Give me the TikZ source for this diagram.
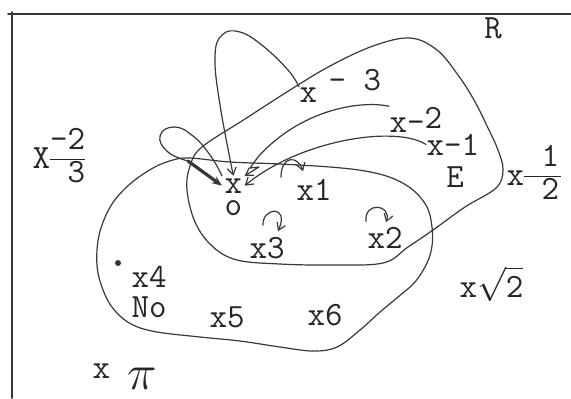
\documentclass[tikz,border=0pt]{standalone}
\usepackage{amsmath}
\usepackage{xcolor}
\usepackage{tikz}
\usetikzlibrary{arrows.meta, calc}
\renewcommand{\arraystretch}{0.8}

\begin{document}
\begin{tikzpicture}[x=0.5pt, y=-0.5pt, line width=0.6pt,
    pencil/.style={draw=black!78, line join=round, line cap=round},
    lbl/.style={inner sep=0pt, anchor=base west, text=black!85,
      font=\fontsize{17}{20}\selectfont\ttfamily},
    tip/.style={-{Straight Barb[length=3.5pt, width=4.5pt]}},
    selfloop/.style={pencil, tip}]

    \useasboundingbox (0,0) rectangle (571,398);

    % frame
    \draw[pencil, line width=0.8pt] (571,14) -- (8,14);
    \draw[pencil, line width=0.8pt] (12,12) -- (12,398);

    % labels
    \node[lbl, anchor=base] (R) at (493,38) {R};
    \node[lbl] (xmiii) at (299,102) {x};
    \node[lbl] (xmiiiexp) at (328,90) {- 3};
    \node[lbl] (xmii) at (389,132) {x-\raisebox{2pt}{2}};
    \node[lbl] (xmi) at (426,155) {x-1};
    \node[lbl, anchor=base] (E) at (455,187) {E};
    \node[lbl] (xhalf) at (506,185) {x\begin{tabular}{@{}r@{\hspace{1pt}}}\ 1\\\hline\ 2\end{tabular}};
    \node[lbl] (xtwothirds) at (32,168) {X\begin{tabular}{@{}l@{}}-2\hspace{13pt}\\\hline\ 3\end{tabular}};
    \node[lbl, inner sep=1pt] (x0) at (222,193) {x};
    \node[lbl] (x0sub) at (224,215) {o};
    \node[lbl] (x1) at (296,200) {x1};
    \node[lbl] (x2) at (367,248) {x2};
    \node[lbl] (x3) at (249,258) {x3};
    \node[lbl] (x4) at (131,287) {x4};
    \node[lbl] (No) at (131,317) {No};
    \node[lbl] (x5) at (209,327) {x5};
    \node[lbl] (x6) at (307,325) {x6};
    \node[lbl] (xsqrt) at (459,297) {x$\sqrt{\mbox{\ttfamily 2}}$};
    \node[lbl] (xpi) at (92,378) {x\ \raisebox{-5.5pt}{\fontsize{26}{28}\selectfont$\pi$}};
    \node[circle, fill=black!80, inner sep=0pt, minimum size=3pt] (dotfour) at (118,263) {};

    % region E
    \draw[pencil] plot[smooth cycle, tension=0.6] coordinates {(290,90) (330,66) (373,46) (410,38)
      (437,50) (458,75) (474,100) (488,128) (498,150) (503,170) (496,188) (465,207) (433,230)
      (408,247) (383,263) (330,265) (280,264) (237,260) (212,246) (195,222) (187,190) (190,166)
      (202,147) (245,119)};

    % region No
    \draw[pencil] plot[smooth cycle, tension=0.6] coordinates {(190,158) (230,162) (280,164)
      (330,167) (365,171) (392,178) (413,190) (427,207) (432,227) (432,246) (427,263) (415,282)
      (398,297) (380,312) (360,330) (337,347) (313,351) (280,347) (240,341) (200,337) (157,332)
      (133,325) (117,313) (106,297) (98,273) (97,250) (101,228) (112,204) (130,184) (153,168)
      (173,160)};

    % x-3 to x0, over the top
    \draw[pencil, tip] plot[smooth, tension=0.7] coordinates {(xmiii.north west) (288,70) (263,46)
      (240,32) (222,35) (215,57) (220,105) (x0.north)};

    % x-2 to x0, zigzag end
    \coordinate (zz) at (258,157);
    \draw[pencil, tip] (xmii.north west) .. controls (360,100) and (300,110) .. (zz)
      -- ++(-8,11) -- ++(9,-1) -- (x0.north east);

    % x-1 to x0
    \draw[pencil, tip] (xmi.west) .. controls (395,125) and (300,140) .. (x0.east);

    % loop on x0
    \coordinate (petalend) at (188,161);
    \draw[pencil] plot[smooth, tension=0.8] coordinates {(x0.north west) (210,155) (193,136)
      (174,127) (160,136) (168,152) (petalend)};
    \draw[pencil, line width=1.6pt, -{Stealth[length=5pt, width=4pt]}] (petalend) -- (x0.west);

    % small loops
    \draw[selfloop] ($(x1.north west)+(-15,-1)$) .. controls +(0,-22) and +(-5,-16) .. ($(x1.north west)+(7,-7)$);
    \draw[selfloop] ($(x3.north west)+(14,-11)$) .. controls +(-1,-18) and +(12,-27) .. ($(x3.north west)+(29,-5)$);
    \draw[selfloop] ($(x2.north west)+(-1,-5)$) .. controls +(-2,-20) and +(6,-18) .. ($(x2.north west)+(19,-4)$);
\end{tikzpicture}
\end{document}
